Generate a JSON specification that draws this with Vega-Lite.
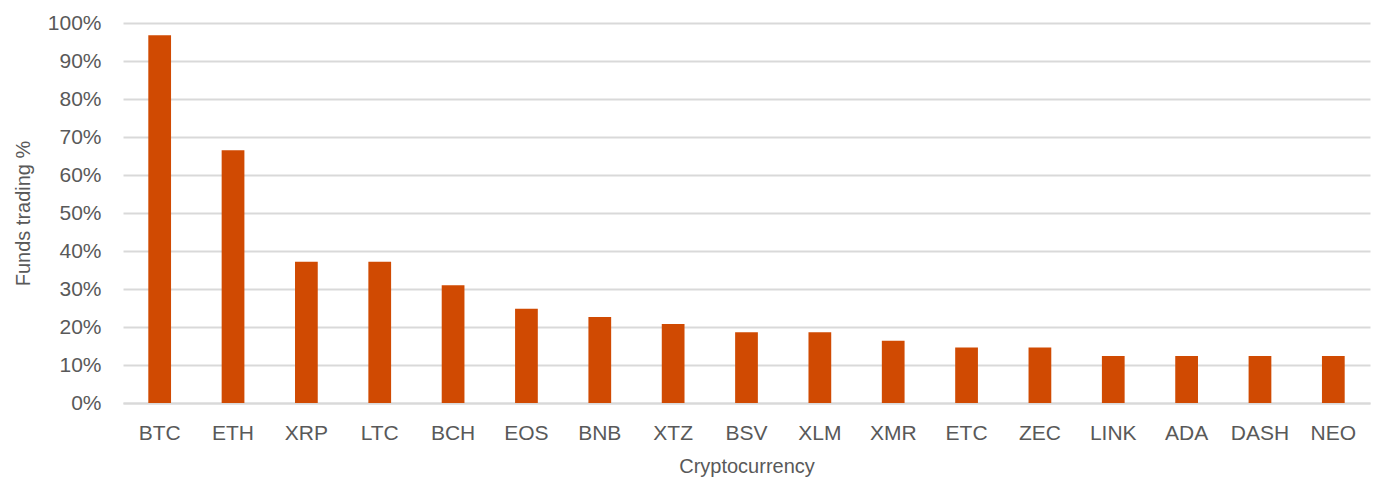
{
  "$schema": "https://vega.github.io/schema/vega-lite/v6.json",
  "autosize": "none",
  "width": 1247,
  "height": 380,
  "padding": {"left": 123, "top": 23, "right": 3, "bottom": 76},
  "background": "white",
  "data": {"values": [
    {"coin": "BTC", "pct": 0.968},
    {"coin": "ETH", "pct": 0.665},
    {"coin": "XRP", "pct": 0.372},
    {"coin": "LTC", "pct": 0.372},
    {"coin": "BCH", "pct": 0.31},
    {"coin": "EOS", "pct": 0.248},
    {"coin": "BNB", "pct": 0.226},
    {"coin": "XTZ", "pct": 0.208},
    {"coin": "BSV", "pct": 0.186},
    {"coin": "XLM", "pct": 0.186},
    {"coin": "XMR", "pct": 0.164},
    {"coin": "ETC", "pct": 0.146},
    {"coin": "ZEC", "pct": 0.146},
    {"coin": "LINK", "pct": 0.124},
    {"coin": "ADA", "pct": 0.124},
    {"coin": "DASH", "pct": 0.124},
    {"coin": "NEO", "pct": 0.124}
  ]},
  "mark": {"type": "bar", "color": "#D04A02"},
  "encoding": {
    "x": {
      "field": "coin", "type": "nominal", "sort": null,
      "scale": {"paddingInner": 0.69, "paddingOuter": 0.345},
      "axis": {
        "title": "Cryptocurrency", "labelAngle": 0, "ticks": false,
        "domainColor": "#D9D9D9", "domainWidth": 2,
        "labelFont": "Liberation Sans", "labelFontSize": 21, "labelColor": "#595959",
        "labelPadding": 19,
        "titleFont": "Liberation Sans", "titleFontSize": 20, "titleColor": "#595959",
        "titleFontWeight": "normal", "titlePadding": 13
      }
    },
    "y": {
      "field": "pct", "type": "quantitative",
      "scale": {"domain": [0, 1], "nice": false},
      "axis": {
        "title": "Funds trading %", "format": ".0%",
        "values": [0, 0.1, 0.2, 0.3, 0.4, 0.5, 0.6, 0.7, 0.8, 0.9, 1],
        "ticks": false, "domain": false,
        "gridColor": "#D9D9D9", "gridWidth": 2,
        "labelFont": "Liberation Sans", "labelFontSize": 21, "labelColor": "#595959",
        "labelPadding": 22,
        "titleFont": "Liberation Sans", "titleFontSize": 20, "titleColor": "#595959",
        "titleFontWeight": "normal", "titlePadding": 14
      }
    }
  },
  "config": {"view": {"stroke": null}}
}
